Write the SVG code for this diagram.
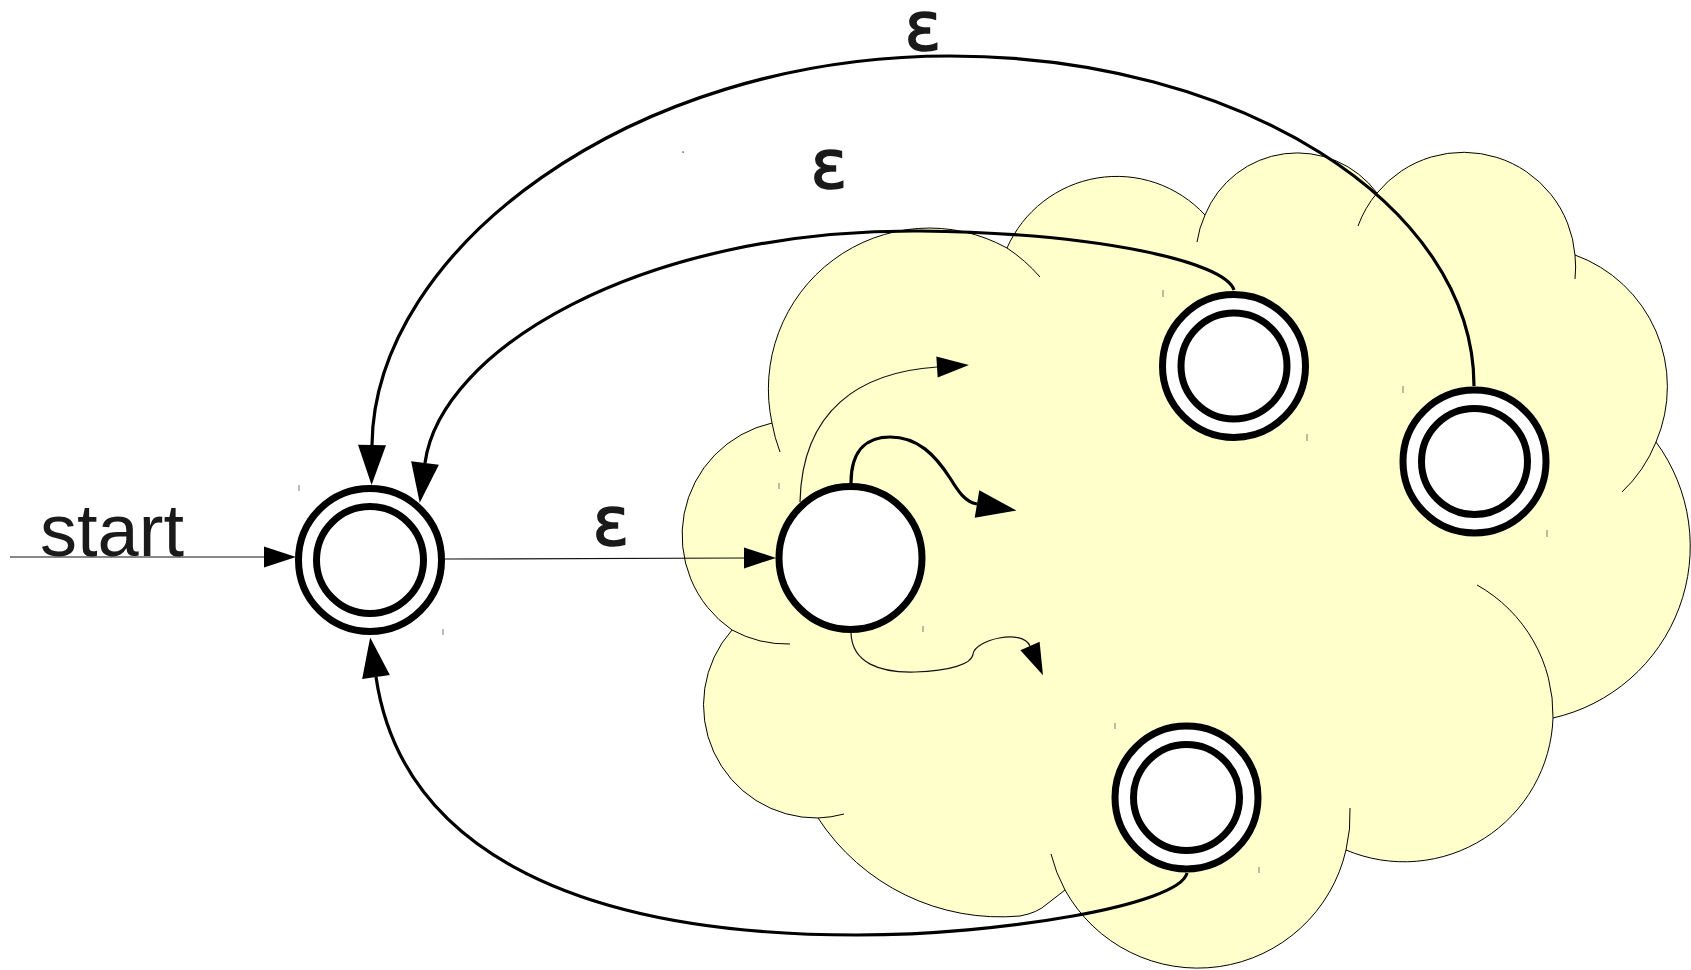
<svg xmlns="http://www.w3.org/2000/svg" width="1691" height="970" viewBox="0 0 1691 970">
<style>
.cloud{fill:#FFFFCC;stroke:#000;stroke-width:1}
.ext{fill:none;stroke:#000;stroke-width:1}
.ring{fill:#fff;stroke:#000;stroke-width:7}
.thin{fill:none;stroke:#111;stroke-width:1.2}
.thick{fill:none;stroke:#000;stroke-width:3.2}
.lbl{font-family:"Liberation Sans",Arial,sans-serif;font-size:74px;fill:#1a1a1a;text-anchor:middle}
.eps{font-family:"DejaVu Sans","Liberation Sans",sans-serif;font-size:68px;fill:#1a1a1a;stroke:#1a1a1a;stroke-width:1.6;text-anchor:middle}
.tick{stroke:#777;stroke-width:1}
</style>
<defs>
<marker id="as" markerUnits="userSpaceOnUse" markerWidth="34" markerHeight="22" refX="0" refY="10.5" orient="auto" overflow="visible">
<path d="M0,0 L32,10.5 L0,21 z" fill="#000"/>
</marker>
<marker id="ab" markerUnits="userSpaceOnUse" markerWidth="42" markerHeight="30" refX="0" refY="14" orient="auto" overflow="visible">
<path d="M0,0 L40,14 L0,28 z" fill="#000"/>
</marker>
</defs>
<rect width="1691" height="970" fill="#fff"/>

<g id="cloud">
<path class="cloud" d="M772 423 A161 161 0 0 1 1007 248 A120 120 0 0 1 1205 215 A99.5 99.5 0 0 1 1377 193 A112 112 0 0 1 1575 255 A140 140 0 0 1 1656 442 A176 176 0 0 1 1553 718 A149 149 0 0 1 1346 850 A152 152 0 0 1 1065 890 L1047 904 Q1037 913 1020 916 A218 218 0 0 1 818 818 A113 113 0 0 1 732 630 A115 115 0 0 1 772 423 Z"/>
<path class="ext" d="M772 423 A161 161 0 0 0 780 452"/>
<path class="ext" d="M1007 248 A161 161 0 0 1 1040 277"/>
<path class="ext" d="M1197 242 A99.5 99.5 0 0 1 1205 215"/>
<path class="ext" d="M1358 226 A112 112 0 0 1 1377 193"/>
<path class="ext" d="M1575 255 A112 112 0 0 1 1575 279"/>
<path class="ext" d="M1656 442 A140 140 0 0 1 1622 492"/>
<path class="ext" d="M1477 585 A149 149 0 0 1 1553 718"/>
<path class="ext" d="M1065 890 A152 152 0 0 1 1051 854"/>
<path class="ext" d="M1350 808 A152 152 0 0 1 1346 850"/>
<path class="ext" d="M818 818 A113 113 0 0 0 844 814"/>
<path class="ext" d="M732 630 A115 115 0 0 0 790 644"/>
</g>

<g id="connectors">
<path class="thin" d="M10 557 L264 557" marker-end="url(#as)"/>
<path class="thin" d="M445 559 L744 558" marker-end="url(#as)"/>
<path class="thick" d="M1474 386 C1474 204 1239 56 950 56 C630 56 374 250 372 445" marker-end="url(#ab)"/>
<path class="thick" d="M1234 290 C1225 262 1100 233 920 231 C640 229 440 350 425 463" marker-end="url(#ab)"/>
<path class="thick" d="M1187 873 C1180 905 1000 935 857 935 C560 935 400 840 376 677" marker-end="url(#ab)"/>
<path class="thin" d="M800 502 C802 410 860 372 937 367" marker-end="url(#as)"/>
<path class="thick" d="M851 483 C851 447 870 437 890 437 C918 437 935 455 950 478 C958 491 965 502 977 504" marker-end="url(#ab)"/>
<path class="thin" d="M851 633 C852 663 880 673 915 672 C950 671 972 664 973 654 C975 640 1022 628 1030 646" marker-end="url(#as)"/>
</g>

<g id="labels">
<text class="eps" x="611" y="545">ε</text>
<text class="eps" x="923" y="50">ε</text>
<text class="eps" x="829" y="188">ε</text>
<text class="lbl" x="112" y="556">start</text>
</g>

<g id="node-start">
<circle class="ring" cx="370" cy="560" r="71.5"/>
<circle class="ring" cx="370" cy="560" r="53.5"/>
</g>
<g id="node-mid">
<circle class="ring" cx="850.5" cy="558" r="71.5"/>
</g>
<g id="node-a">
<circle class="ring" cx="1234" cy="366" r="71.5"/>
<circle class="ring" cx="1234" cy="366" r="53"/>
</g>
<g id="node-b">
<circle class="ring" cx="1474.5" cy="461.5" r="71.5"/>
<circle class="ring" cx="1474.5" cy="461.5" r="53"/>
</g>
<g id="node-c">
<circle class="ring" cx="1186.5" cy="797.5" r="71.5"/>
<circle class="ring" cx="1186.5" cy="797.5" r="53"/>
</g>

<g id="marks">
<line class="tick" x1="299" y1="485" x2="299" y2="491"/>
<line class="tick" x1="443" y1="629" x2="443" y2="635"/>
<line class="tick" x1="779" y1="483" x2="779" y2="489"/>
<line class="tick" x1="923" y1="626" x2="923" y2="632"/>
<line class="tick" x1="1163" y1="290" x2="1163" y2="297"/>
<line class="tick" x1="1307" y1="434" x2="1307" y2="441"/>
<line class="tick" x1="1403" y1="386" x2="1403" y2="393"/>
<line class="tick" x1="1547" y1="530" x2="1547" y2="537"/>
<line class="tick" x1="1115" y1="723" x2="1115" y2="729"/>
<line class="tick" x1="1259" y1="867" x2="1259" y2="873"/>
<rect x="682.5" y="151.5" width="1.2" height="1.2" fill="#000"/>
</g>
</svg>
